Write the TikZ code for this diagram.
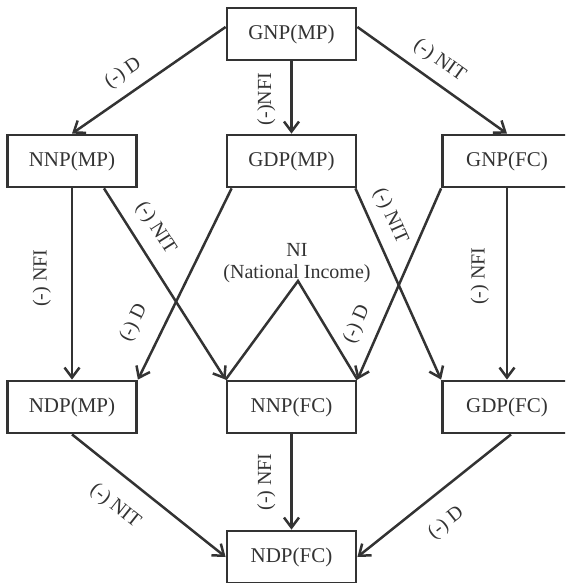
\documentclass[tikz,border=0pt]{standalone}
\usepackage{fontspec}
\setmainfont{Liberation Serif}
\usetikzlibrary{arrows.meta}
\definecolor{ink}{HTML}{333333}
\begin{document}
\begin{tikzpicture}[x=1pt, y=-1pt,
  box/.style={draw=ink, line width=2.8pt, minimum width=129pt, minimum height=52pt,
    inner sep=0pt, text=ink, font=\fontsize{21}{25}\selectfont},
  flow/.style={draw=ink, line width=2.5pt, -{Straight Barb[length=10pt, width=15pt]}},
  edgelabel/.style={text=ink, font=\fontsize{20}{24}\selectfont, inner sep=0pt, sloped},
  uplabel/.style={text=ink, font=\fontsize{20}{24}\selectfont, inner sep=0pt,
    rotate=90, anchor=south, outer ysep=#1},
  leg/.style={draw=ink, line width=2.5pt, line join=miter}
]
\useasboundingbox (0,0) rectangle (565,583);
\clip (0,0) rectangle (565,583);

% aggregates
\node[box] (gnpmp) at (291.5,34)  {GNP(MP)};
\node[box] (nnpmp) at (72,161)    {NNP(MP)};
\node[box] (gdpmp) at (291.5,161) {GDP(MP)};
\node[box] (gnpfc) at (507,161)   {GNP(FC)};
\node[box] (ndpmp) at (72,407)    {NDP(MP)};
\node[box] (nnpfc) at (291.5,407) {NNP(FC)};
\node[box] (gdpfc) at (507,407)   {GDP(FC)};
\node[box] (ndpfc) at (291.5,557) {NDP(FC)};

% national income marker
\node[text=ink, font=\fontsize{20}{22}\selectfont, align=center, inner sep=0pt] (ni) at (297,263) {NI\\(National Income)};
\coordinate (apex) at (298,281);
\draw[leg] (nnpfc.north west) -- (apex) -- (nnpfc.north east);

% first level
\draw[flow] ([yshift=7pt]gnpmp.west) -- node[edgelabel, pos=0.59, above=10pt] {(-) D} (nnpmp.north);
\draw[flow] (gnpmp.south) -- node[uplabel=16pt, pos=0.52] {(-)NFI} (gdpmp.north);
\draw[flow] ([yshift=7pt]gnpmp.east) -- node[edgelabel, pos=0.47, above=10pt] {(-) NIT} (gnpfc.north);

% second level
\draw[flow] (nnpmp.south) -- node[uplabel=21pt, pos=0.47] {(-) NFI} (ndpmp.north);
\draw[flow] ([xshift=32pt]nnpmp.south) -- node[edgelabel, pos=0.27, above=12pt] {(-) NIT} (nnpfc.north west);
\draw[flow] ([xshift=6pt]gdpmp.south west) -- node[edgelabel, pos=0.77, above=18pt] {(-) D} (ndpmp.north east);
\draw[flow] ([xshift=-2pt]gdpmp.south east) -- node[edgelabel, pos=0.19, above=10pt] {(-) NIT} (gdpfc.north west);
\draw[flow] (gnpfc.south) -- node[uplabel=18pt, pos=0.46] {(-) NFI} (gdpfc.north);
\draw[flow] (gnpfc.south west) -- node[edgelabel, pos=0.76, above=12pt] {(-) D} (nnpfc.north east);

% third level
\draw[flow] (ndpmp.south) -- node[edgelabel, pos=0.40, below=19pt] {(-) NIT} (ndpfc.west);
\draw[flow] (nnpfc.south) -- node[uplabel=16pt, pos=0.5] {(-) NFI} (ndpfc.north);
\draw[flow] ([xshift=4pt]gdpfc.south) -- node[edgelabel, pos=0.54, below=19pt] {(-) D} (ndpfc.east);
\end{tikzpicture}
\end{document}
